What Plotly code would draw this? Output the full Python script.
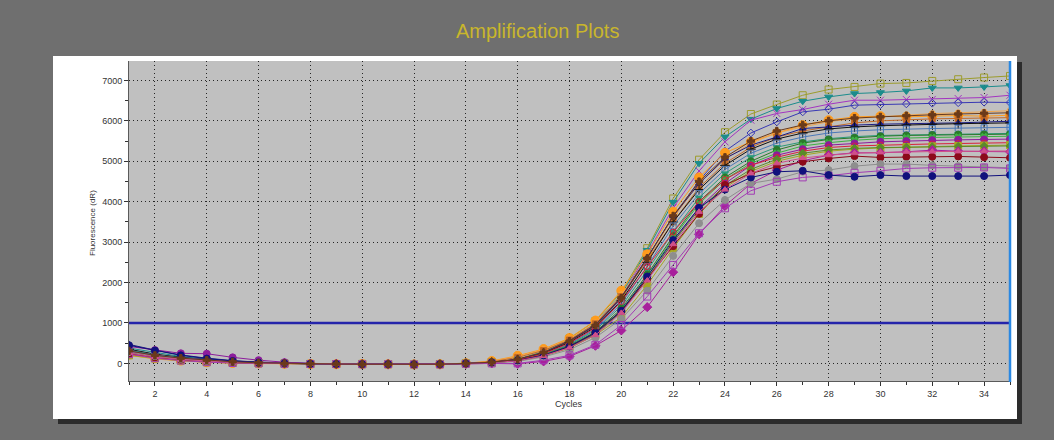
import plotly.graph_objects as go

# ---------------- data ----------------
CYCLES = list(range(1, 36))
X_TICKS = list(range(2, 35, 2))
Y_TICKS = list(range(0, 7001, 1000))
THRESHOLD = 1000
CHART_TITLE = "Amplification Plots"
X_TITLE = "Cycles"
Y_TITLE = "Fluorescence (dR)"

s01 = [260, 150, 90, 50, 25, 10, 0, -10, -15, -10, -20, -25, -20, 0, 35,
       110, 300, 620, 1050, 1760, 2850, 4080, 5040, 5720, 6170, 6405, 6634, 6775, 6840, 6923, 6938, 6988, 7030, 7072, 7111]
s02 = [380, 270, 170, 110, 60, 30, 10, -10, -15, -20, -20, -30, -20, 0, 30,
       100, 280, 580, 1000, 1700, 2800, 3990, 4950, 5605, 6042, 6306, 6486, 6593, 6676, 6701, 6741, 6815, 6815, 6840, 6874]
s03 = [300, 190, 120, 70, 35, 15, 0, -10, -15, -15, -20, -25, -20, 0, 30,
       100, 270, 560, 960, 1650, 2720, 3850, 4760, 5480, 6017, 6183, 6281, 6412, 6511, 6511, 6528, 6530, 6552, 6577, 6634]
s04 = [340, 220, 140, 90, 45, 20, 5, -10, -15, -20, -20, -25, -20, 0, 30,
       95, 260, 540, 930, 1600, 2620, 3620, 4520, 5250, 5700, 5975, 6222, 6289, 6388, 6400, 6420, 6437, 6450, 6462, 6455]
s05 = [220, 130, 70, 30, 10, 0, -10, -15, -20, -15, -20, -25, -20, 5, 60,
       190, 355, 627, 1060, 1800, 2700, 3753, 4600, 5210, 5481, 5700, 5894, 6017, 6099, 6116, 6100, 6116, 6132, 6116, 6140]
s06 = [200, 110, 60, 25, 5, -5, -10, -15, -15, -20, -20, -25, -20, 0, 50,
       170, 340, 600, 1000, 1700, 2600, 3600, 4450, 5050, 5450, 5700, 5850, 5980, 6060, 6100, 6150, 6180, 6200, 6220, 6250]
s07 = [240, 140, 80, 40, 15, 5, -5, -10, -15, -20, -20, -25, -20, 0, 40,
       150, 320, 580, 980, 1650, 2550, 3500, 4350, 4950, 5350, 5600, 5750, 5850, 5950, 6000, 6030, 6050, 6060, 6070, 6080]
s08 = [470, 330, 210, 130, 70, 30, 10, -5, -15, -20, -20, -25, -20, 0, 30,
       100, 270, 560, 950, 1640, 2620, 3640, 4450, 5070, 5400, 5600, 5811, 5850, 5894, 5918, 5920, 5940, 5950, 5975, 5990]
s09 = [350, 230, 150, 90, 50, 20, 5, -10, -15, -20, -20, -25, -20, 0, 30,
       90, 250, 520, 900, 1550, 2500, 3500, 4300, 4900, 5300, 5550, 5700, 5800, 5850, 5880, 5900, 5920, 5930, 5940, 5950]
s10 = [300, 200, 130, 80, 40, 15, 0, -10, -15, -20, -20, -25, -20, 0, 25,
       85, 230, 480, 850, 1480, 2400, 3400, 4200, 4800, 5200, 5450, 5600, 5700, 5750, 5780, 5800, 5810, 5820, 5830, 5840]
s11 = [330, 210, 140, 80, 40, 15, 0, -10, -15, -20, -20, -25, -20, 0, 25,
       80, 220, 460, 820, 1420, 2300, 3250, 4100, 4700, 5100, 5350, 5480, 5560, 5610, 5640, 5650, 5670, 5680, 5690, 5690]
s12 = [280, 170, 100, 60, 30, 10, 0, -10, -15, -20, -20, -25, -20, 0, 25,
       80, 210, 440, 780, 1350, 2200, 3150, 4000, 4600, 5000, 5280, 5450, 5540, 5580, 5620, 5640, 5650, 5660, 5665, 5671]
s13 = [250, 150, 90, 50, 20, 5, -5, -10, -15, -20, -20, -25, -20, 0, 20,
       70, 200, 420, 760, 1300, 2150, 3100, 3950, 4550, 4950, 5200, 5380, 5460, 5520, 5560, 5580, 5590, 5600, 5610, 5620]
s14 = [420, 330, 250, 240, 150, 80, 30, 0, -10, -15, -20, -25, -20, 0, 20,
       70, 190, 400, 740, 1260, 2100, 3000, 3850, 4450, 4900, 5150, 5300, 5400, 5442, 5481, 5500, 5523, 5530, 5540, 5548]
s15 = [230, 140, 80, 40, 15, 5, -5, -10, -15, -20, -20, -25, -20, 0, 30,
       90, 240, 500, 880, 1531, 2395, 3250, 4000, 4550, 4900, 5100, 5250, 5342, 5380, 5400, 5420, 5430, 5440, 5450, 5460]
s16 = [200, 120, 70, 30, 10, 0, -10, -15, -15, -20, -20, -25, -20, 0, 20,
       60, 180, 380, 700, 1146, 1943, 2850, 3700, 4350, 4750, 5000, 5150, 5250, 5300, 5330, 5350, 5370, 5380, 5390, 5400]
s17 = [260, 160, 100, 55, 25, 10, 0, -10, -15, -20, -20, -25, -20, 0, 20,
       65, 190, 400, 720, 1284, 2100, 3000, 3800, 4400, 4800, 5050, 5200, 5280, 5320, 5340, 5350, 5360, 5370, 5375, 5380]
s18 = [300, 200, 130, 80, 45, 20, 5, -10, -15, -20, -20, -25, -25, -10, 0,
       -10, 50, 173, 437, 815, 1392, 2257, 3195, 3894, 4450, 4780, 5012, 5153, 5210, 5210, 5235, 5276, 5250, 5250, 5235]
s19 = [240, 150, 90, 50, 20, 5, -5, -10, -15, -20, -20, -25, -20, 0, 20,
       70, 200, 420, 760, 1300, 2100, 2900, 3700, 4412, 4700, 4864, 4988, 5070, 5128, 5095, 5110, 5112, 5120, 5100, 5087]
s20 = [280, 180, 110, 60, 30, 10, 0, -10, -15, -20, -20, -25, -20, 0, 15,
       50, 160, 340, 640, 1100, 1800, 2660, 3467, 4042, 4454, 4560, 4741, 4783, 4881, 4931, 4931, 4900, 4880, 4848, 4840]
s21 = [230, 130, 70, 30, 10, 0, -10, -15, -15, -20, -20, -25, -25, -10, 0,
       0, 80, 200, 460, 950, 1654, 2437, 3220, 3837, 4272, 4494, 4602, 4642, 4716, 4765, 4823, 4840, 4840, 4848, 4823]
s22 = [450, 320, 200, 120, 60, 25, 5, -10, -15, -20, -20, -25, -20, 0, 25,
       75, 200, 420, 760, 1300, 2150, 3050, 3850, 4300, 4600, 4740, 4765, 4659, 4617, 4659, 4634, 4634, 4634, 4634, 4659]
s23 = [260, 160, 100, 55, 25, 10, 0, -10, -15, -20, -20, -25, -20, 0, 20,
       65, 185, 390, 700, 1250, 2050, 2950, 3750, 4300, 4700, 4950, 5080, 5150, 5200, 5220, 5235, 5240, 5245, 5250, 5255]
s24 = [310, 200, 130, 80, 40, 15, 0, -10, -15, -20, -20, -25, -20, 0, 30,
       100, 270, 550, 940, 1620, 2600, 3650, 4500, 5100, 5500, 5750, 5900, 6000, 6070, 6100, 6130, 6150, 6170, 6190, 6200]

SERIES = [s01, s02, s03, s04, s05, s06, s07, s08, s09, s10, s11, s12,
          s13, s14, s15, s16, s17, s18, s19, s20, s21, s22, s23, s24]

# ---------------- styles ----------------
COLORS = ["#9c9c2c", "#1b8c8c", "#a335c0", "#3838b4", "#ff9b1c", "#f2a64c",
          "#c46a28", "#1c1c82", "#111111", "#4a78b8", "#2a9a7a", "#2a7a2a",
          "#3cb043", "#8c1c9c", "#d8203c", "#a6a622", "#5a8a2a", "#a8209c",
          "#8c0a1a", "#8e8e8e", "#a23cb4", "#10107c", "#d0508a", "#6a3a1a"]
SYMBOLS = ["square-open", "triangle-down", "x-thin-open", "diamond-open", "circle",
           "circle-open", "square", "triangle-up", "cross-thin-open", "square-open",
           "triangle-down", "circle", "x", "circle", "circle-open", "square",
           "diamond", "diamond", "circle", "circle", "square-open", "circle",
           "triangle-up", "cross"]
SIZES = [7, 7, 7, 6, 9, 6, 6, 6, 7, 6, 6, 7, 6, 7, 6, 7, 6, 7, 7, 7, 7, 7, 6, 6]

FONT = "Liberation Sans, Arial, sans-serif"
BG = "#6f6f6f"

# plot area pixels (page coordinates; body margin removed below)
L, R, T, B = 129, 1010, 61, 381
W, H = 1054, 440
PW, PH = R - L, B - T


def px(x):
    return (x - L) / PW


def py(y):
    return (B - y) / PH


fig = go.Figure()

# threshold line drawn first (beneath the curves)
fig.add_trace(go.Scatter(x=[CYCLES[0], CYCLES[-1]], y=[THRESHOLD, THRESHOLD], mode="lines",
                         line=dict(color="#2424aa", width=2.5), hoverinfo="skip",
                         showlegend=False))

for vals, c, s, sz in zip(SERIES, COLORS, SYMBOLS, SIZES):
    fig.add_trace(go.Scatter(
        x=CYCLES, y=vals, mode="lines+markers",
        line=dict(color=c, width=1),
        marker=dict(symbol=s, size=sz, color=c, line=dict(color=c, width=1)),
        showlegend=False))

shapes = [
    # shadow of white panel
    dict(type="rect", xref="paper", yref="paper", layer="below",
         x0=px(1016), x1=px(1022), y0=py(62), y1=py(424),
         fillcolor="#2c2c2c", line=dict(width=0)),
    dict(type="rect", xref="paper", yref="paper", layer="below",
         x0=px(58), x1=px(1022), y0=py(418), y1=py(424),
         fillcolor="#2c2c2c", line=dict(width=0)),
    # white panel
    dict(type="rect", xref="paper", yref="paper", layer="below",
         x0=px(53), x1=px(1017), y0=py(419), y1=py(56),
         fillcolor="#ffffff", line=dict(width=0)),
    # grey plot area
    dict(type="rect", xref="paper", yref="paper", layer="below",
         x0=0, x1=1, y0=0, y1=1, fillcolor="#c0c0c0", line=dict(width=0)),
    # blue vertical line at right edge
    dict(type="line", xref="paper", yref="paper", layer="above",
         x0=px(1010), x1=px(1010), y0=py(382), y1=py(61),
         line=dict(color="#2a88e2", width=2.5)),
]

annotations = [
    dict(text=CHART_TITLE, xref="paper", yref="paper", x=px(537), y=py(31),
         xanchor="center", yanchor="middle", showarrow=False,
         font=dict(family=FONT, size=20, color="#c9b62c")),
    dict(text=X_TITLE, xref="paper", yref="paper", x=px(569), y=py(404),
         xanchor="center", yanchor="middle", showarrow=False,
         font=dict(family=FONT, size=9, color="#333333")),
    dict(text=Y_TITLE, xref="paper", yref="paper", x=px(92), y=py(223),
         xanchor="center", yanchor="middle", showarrow=False, textangle=-90,
         font=dict(family=FONT, size=8, color="#333333")),
]

fig.update_layout(
    width=W, height=H,
    margin=dict(l=L, r=W - R, t=T, b=H - B, pad=0),
    paper_bgcolor=BG,
    plot_bgcolor="rgba(0,0,0,0)",
    font=dict(family=FONT, size=9, color="#333333"),
    shapes=shapes,
    annotations=annotations,
    showlegend=False,
    hovermode=False,
)

fig.update_xaxes(
    range=[1, 35], tickmode="array", tickvals=X_TICKS,
    showgrid=True, gridcolor="#262626", gridwidth=1, griddash="1px,3px",
    zeroline=False, showline=True, linecolor="#5a5a5a", linewidth=1,
    ticks="outside", ticklen=4, tickcolor="#333333", tickwidth=1,
    tickfont=dict(size=9, color="#333333"),
    minor=dict(dtick=1, tick0=1, ticks="outside", ticklen=3, tickcolor="#333333", showgrid=False),
)
fig.update_yaxes(
    range=[-435, 7481], tickmode="array", tickvals=Y_TICKS,
    showgrid=True, gridcolor="#262626", gridwidth=1, griddash="1px,3px",
    zeroline=False, showline=True, linecolor="#5a5a5a", linewidth=1,
    ticks="outside", ticklen=4, tickcolor="#333333", tickwidth=1,
    tickfont=dict(size=9, color="#333333"),
    minor=dict(dtick=500, tick0=0, ticks="outside", ticklen=3, tickcolor="#333333", showgrid=False),
)

fig.write_html(
    "out.html",
    config={"displayModeBar": False, "staticPlot": True},
    post_script=("document.body.style.margin='0';"
                 "document.body.style.overflow='hidden';"
                 "document.body.style.background='" + BG + "';"),
)
